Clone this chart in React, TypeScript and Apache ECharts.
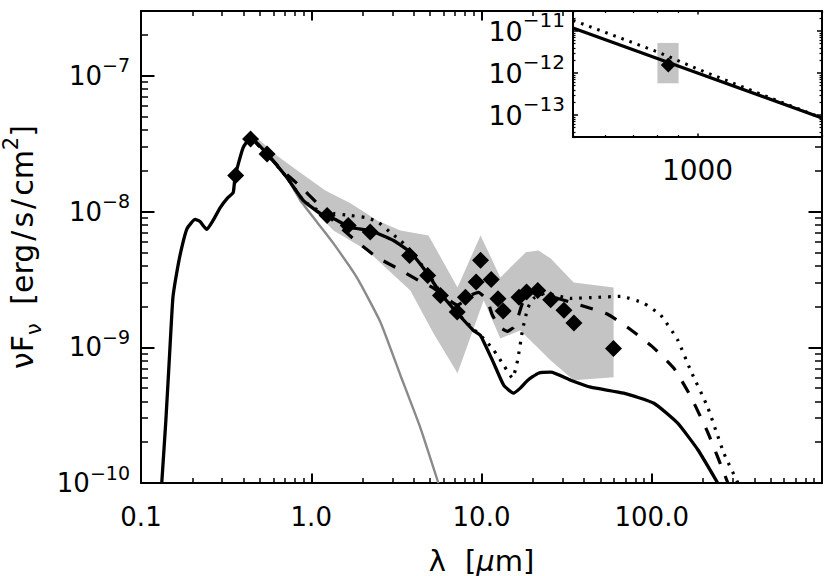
import React, { useEffect, useRef } from 'react';
import * as echarts from 'echarts';

const FONT = 'DejaVu Sans';
const INK = '#000000';
const BAND = '#c4c4c4';
const PHOTO = '#8a8a8a';

// ---------- main panel: observed photometry (wavelength in micron, nuFnu in erg/s/cm2)
const obsWavelength = [0.36, 0.44, 0.55, 1.24, 1.65, 2.22, 3.78, 4.83, 5.74, 7.2, 8.05, 9.3, 9.87, 11.4, 12.5, 13.4, 16.6, 18.4, 21.4, 25.5, 30.5, 34.9, 59.6];
const obsFlux = [1.84e-8, 3.42e-8, 2.65e-8, 9.35e-9, 7.9e-9, 7.05e-9, 4.74e-9, 3.38e-9, 2.41e-9, 1.82e-9, 2.34e-9, 3.02e-9, 4.37e-9, 3.15e-9, 2.28e-9, 1.85e-9, 2.34e-9, 2.55e-9, 2.62e-9, 2.24e-9, 1.87e-9, 1.51e-9, 9.8e-10];

// grey uncertainty band
const bandUpperWavelength = [0.45, 0.63, 0.86, 1.21, 1.7, 2.44, 3.34, 4.88, 7.23, 9.87, 12.9, 18.2, 21.6, 25.5, 34.8, 59.7];
const bandUpperFlux = [3.75e-8, 2.58e-8, 1.94e-8, 1.43e-8, 1.15e-8, 8.6e-9, 7.25e-9, 6.67e-9, 2.76e-9, 6.67e-9, 3.27e-9, 5.0e-9, 5.16e-9, 4.51e-9, 3.0e-9, 2.76e-9];
const bandLowerWavelength = [0.45, 0.63, 0.86, 1.35, 2.13, 3.82, 5.22, 7.23, 10.3, 12.9, 16.9, 25.5, 34.8, 59.7];
const bandLowerFlux = [3.33e-8, 2.18e-8, 1.3e-8, 7.25e-9, 5.16e-9, 2.62e-9, 1.27e-9, 6.44e-10, 2.22e-9, 1.16e-9, 1.33e-9, 8.0e-10, 5.71e-10, 6.0e-10];

// solid model
const solidWavelength = [0.1324, 0.14, 0.148, 0.154, 0.163, 0.1735, 0.1865, 0.208, 0.222, 0.2434, 0.265, 0.292, 0.321, 0.348, 0.357, 0.398, 0.441, 0.548, 0.719, 0.897, 1.13, 1.35, 1.7, 2.22, 3.04, 3.82, 4.81, 5.74, 7.23, 8.97, 9.87, 11.8, 13.5, 15.4, 16.9, 18.7, 21.6, 25.5, 33.4, 43.8, 68.4, 103, 142, 187, 244];
const solidFlux = [1e-10, 2.9e-10, 1e-9, 2.33e-9, 3.68e-9, 5.43e-9, 7.5e-9, 8.74e-9, 8.44e-9, 7.38e-9, 8.59e-9, 1.07e-8, 1.25e-8, 1.38e-8, 1.81e-8, 2.96e-8, 3.5e-8, 2.67e-8, 1.78e-8, 1.21e-8, 9.67e-9, 8.89e-9, 7.63e-9, 7.25e-9, 6.12e-9, 5.0e-9, 3.5e-9, 2.5e-9, 1.78e-9, 1.33e-9, 1.22e-9, 7.63e-10, 5.26e-10, 4.59e-10, 5.0e-10, 5.72e-10, 6.44e-10, 6.55e-10, 5.72e-10, 5.08e-10, 4.59e-10, 3.87e-10, 2.76e-10, 1.75e-10, 1e-10];

// dashed model
const dashWavelength = [0.441, 0.548, 0.658, 0.862, 1.085, 1.38, 1.815, 2.44, 3.21, 4.26, 5.15, 5.74, 7.23, 8.61, 9.59, 10.8, 11.6, 12.9, 14.2, 15.4, 16.3, 17.4, 19.4, 24.4, 38.2, 55.1, 73.3, 100, 135, 169, 213, 280];
const dashFlux = [3.5e-8, 2.67e-8, 2.07e-8, 1.53e-8, 1.15e-8, 8.3e-9, 6.12e-9, 4.59e-9, 3.81e-9, 3.11e-9, 2.76e-9, 2.5e-9, 2.04e-9, 2.41e-9, 2.54e-9, 2.22e-9, 1.72e-9, 1.4e-9, 1.31e-9, 1.4e-9, 1.63e-9, 2.11e-9, 2.54e-9, 2.41e-9, 2.04e-9, 1.75e-9, 1.38e-9, 1.02e-9, 7.0e-10, 4.36e-10, 2.37e-10, 1e-10];

// dotted model
const dotWavelength = [0.441, 0.548, 0.719, 0.897, 1.13, 1.35, 1.7, 2.08, 2.44, 2.92, 3.34, 3.82, 4.81, 5.74, 7.23, 8.61, 10.3, 11.8, 13.5, 15.2, 16.3, 17.4, 18.7, 20.2, 23.8, 33.4, 46.8, 65.7, 89.7, 113, 142, 169, 213, 265, 321];
const dotFlux = [3.5e-8, 2.67e-8, 1.78e-8, 1.21e-8, 1.0e-8, 9.67e-9, 9.35e-9, 9.03e-9, 8.44e-9, 7.0e-9, 6.12e-9, 5.16e-9, 3.56e-9, 2.54e-9, 1.78e-9, 1.43e-9, 1.16e-9, 9.5e-10, 7.37e-10, 5.92e-10, 8.03e-10, 1.33e-9, 1.94e-9, 2.29e-9, 2.5e-9, 2.29e-9, 2.33e-9, 2.37e-9, 2.11e-9, 1.72e-9, 1.13e-9, 6.77e-10, 3.62e-10, 1.66e-10, 1e-10];

// grey stellar photosphere
const photoWavelength = [0.441, 0.548, 0.719, 0.862, 1.085, 1.35, 1.866, 2.55, 3.34, 4.38, 5.58];
const photoFlux = [3.5e-8, 2.67e-8, 1.78e-8, 1.21e-8, 8.3e-9, 5.82e-9, 3.22e-9, 1.53e-9, 6.22e-10, 2.54e-10, 1e-10];

// ---------- inset panel
const insetSolidWavelength = [500, 1000, 2000];
const insetSolidFlux = [1.18e-11, 1.0e-12, 8.5e-14];
const insetDotWavelength = [500, 800, 1000, 1400, 2000];
const insetDotFlux = [1.8e-11, 3.2e-12, 1.25e-12, 3.35e-13, 8.5e-14];
const insetObsWavelength = [850];
const insetObsFlux = [1.55e-12];
const insetBoxWavelength = [800, 900];
const insetBoxFlux = [5.7e-13, 5.2e-12];

// ---------- ticks and labels
const xRange = [0.1, 1000];
const yRange = [1e-10, 3e-7];
const xMajorTicks = [0.1, 1, 10, 100, 1000];
const xTickValues = [0.1, 1, 10, 100];
const xTickLabels = ['0.1', '1.0', '10.0', '100.0'];
const yMajorTicks = [1e-10, 1e-9, 1e-8, 1e-7];
const yTickExponents = ['−10', '−9', '−8', '−7'];

const insetXRange = [500, 2000];
const insetYRange = [3e-14, 3e-11];
const insetXMajorTicks = [1000];
const insetXTickLabels = ['1000'];
const insetYMajorTicks = [1e-13, 1e-12, 1e-11];
const insetYTickExponents = ['−13', '−12', '−11'];

const minorTicks = (lo: number, hi: number) => {
  const out: number[] = [];
  for (let e = Math.floor(Math.log10(lo) + 1e-9); e < Math.ceil(Math.log10(hi) - 1e-9); e++) {
    for (let k = 2; k <= 9; k++) {
      const v = k * Math.pow(10, e);
      if (v >= lo * 0.999 && v <= hi * 1.001) out.push(v);
    }
  }
  return out;
};

const pick = (v: number, vals: number[], labels: string[]) => {
  const i = vals.findIndex((t) => Math.abs(Math.log10(t) - Math.log10(v)) < 1e-6);
  return i >= 0 ? labels[i] : '';
};

const pairs = (xs: number[], ys: number[]) => xs.map((x, i) => [x, ys[i]]);

function tickAxis(
  gridIndex: number,
  position: string,
  range: number[],
  ticks: number[],
  len: number,
  width: number,
  showLine: boolean,
  z: number
): any {
  return {
    type: 'log',
    logBase: 10,
    gridIndex,
    position,
    min: range[0],
    max: range[1],
    z,
    silent: true,
    splitLine: { show: false },
    minorTick: { show: false },
    minorSplitLine: { show: false },
    axisPointer: { show: false },
    axisLine: { show: showLine, lineStyle: { color: INK, width: 2 } },
    axisTick: { show: true, inside: true, length: len, customValues: ticks, lineStyle: { color: INK, width } },
    axisLabel: { show: false },
  };
}

function buildOption(): any {
  const xMinor = minorTicks(xRange[0], xRange[1]);
  const yMinor = minorTicks(yRange[0], yRange[1]);
  const ixMinor = minorTicks(insetXRange[0], insetXRange[1]);
  const iyMinor = minorTicks(insetYRange[0], insetYRange[1]);

  const xMain = tickAxis(0, 'bottom', xRange, xMajorTicks, 9.5, 2, true, 0);
  xMain.axisLabel = {
    show: true,
    customValues: xTickValues,
    formatter: (v: number) => pick(v, xTickValues, xTickLabels),
    margin: 21,
    fontFamily: FONT,
    fontSize: 26,
    color: INK,
  };
  xMain.name = '{n|λ }{g|[}{i|μ}{n|m]}';
  xMain.nameLocation = 'middle';
  xMain.nameGap = 63;
  xMain.nameTextStyle = {
    fontFamily: FONT,
    fontSize: 29,
    color: INK,
    rich: {
      n: { fontFamily: FONT, fontSize: 29, color: INK },
      g: { fontFamily: FONT, fontSize: 29, color: INK, padding: [0, 0, 0, 10] },
      i: { fontFamily: FONT, fontSize: 29, color: INK, fontStyle: 'italic' },
    },
  };

  const yMain = tickAxis(0, 'left', yRange, yMajorTicks, 13.5, 2, true, 0);
  yMain.axisLabel = {
    show: true,
    customValues: yMajorTicks,
    formatter: (v: number) => `{b|10}{s|${pick(v, yMajorTicks, yTickExponents)}}`,
    margin: 11,
    rich: {
      b: { fontFamily: FONT, fontSize: 26, lineHeight: 40, color: INK },
      s: { fontFamily: FONT, fontSize: 19, lineHeight: 15, verticalAlign: 'top', color: INK },
    },
  };
  yMain.name = '{a|νF}{sub|ν}{gap| }{a|[erg}{sl|/}{a|s}{sl|/}{a|cm}{sup|2}{a|]}';
  yMain.nameLocation = 'middle';
  yMain.nameGap = 97;
  yMain.nameTextStyle = {
    fontFamily: FONT,
    fontSize: 30,
    color: INK,
    rich: {
      a: { fontFamily: FONT, fontSize: 30, lineHeight: 44, color: INK },
      gap: { fontFamily: FONT, fontSize: 30, lineHeight: 44, color: INK, padding: [0, 9, 0, 0] },
      sl: { fontFamily: FONT, fontSize: 30, lineHeight: 44, color: INK, padding: [0, 3, 0, 3] },
      sub: { fontFamily: FONT, fontSize: 21, lineHeight: 27, verticalAlign: 'bottom', color: INK },
      sup: { fontFamily: FONT, fontSize: 21, lineHeight: 18, verticalAlign: 'top', color: INK },
    },
  };

  const xInset = tickAxis(1, 'bottom', insetXRange, insetXMajorTicks, 3.5, 1.5, true, 25);
  xInset.axisLabel = {
    show: true,
    customValues: insetXMajorTicks,
    formatter: (v: number) => pick(v, insetXMajorTicks, insetXTickLabels),
    margin: 19,
    fontFamily: FONT,
    fontSize: 28,
    color: INK,
  };

  const yInset = tickAxis(1, 'left', insetYRange, insetYMajorTicks, 5, 1.5, true, 25);
  yInset.axisLabel = {
    show: true,
    customValues: insetYMajorTicks,
    formatter: (v: number) => `{b|10}{s|${pick(v, insetYMajorTicks, insetYTickExponents)}}`,
    margin: 8,
    rich: {
      b: { fontFamily: FONT, fontSize: 27, lineHeight: 42, color: INK },
      s: { fontFamily: FONT, fontSize: 20, lineHeight: 15, verticalAlign: 'top', color: INK },
    },
  };

  return {
    animation: false,
    backgroundColor: '#ffffff',
    textStyle: { fontFamily: FONT },
    grid: [
      { left: 141, top: 11, width: 681, height: 472, outerBoundsMode: 'none', containLabel: false },
      {
        left: 573,
        top: 11,
        width: 249,
        height: 126,
        show: true,
        backgroundColor: '#ffffff',
        borderWidth: 0,
        z: 15,
        outerBoundsMode: 'none',
        containLabel: false,
      },
    ],
    xAxis: [
      xMain,
      tickAxis(0, 'bottom', xRange, xMinor, 5, 1.5, false, 0),
      tickAxis(0, 'top', xRange, xMajorTicks, 9.5, 2, true, 0),
      tickAxis(0, 'top', xRange, xMinor, 5, 1.5, false, 0),
      xInset,
      tickAxis(1, 'bottom', insetXRange, ixMinor, 2, 1.2, false, 25),
      tickAxis(1, 'top', insetXRange, insetXMajorTicks, 3.5, 1.5, true, 25),
      tickAxis(1, 'top', insetXRange, ixMinor, 2, 1.2, false, 25),
    ],
    yAxis: [
      yMain,
      tickAxis(0, 'left', yRange, yMinor, 7, 1.5, false, 0),
      tickAxis(0, 'right', yRange, yMajorTicks, 13.5, 2, true, 0),
      tickAxis(0, 'right', yRange, yMinor, 7, 1.5, false, 0),
      yInset,
      tickAxis(1, 'left', insetYRange, iyMinor, 2.5, 1.2, false, 25),
      tickAxis(1, 'right', insetYRange, insetYMajorTicks, 5, 1.5, true, 25),
      tickAxis(1, 'right', insetYRange, iyMinor, 2.5, 1.2, false, 25),
    ],
    series: [
      {
        type: 'custom',
        name: 'band',
        xAxisIndex: 0,
        yAxisIndex: 0,
        silent: true,
        z: 1,
        data: [[1, 1e-8]],
        renderItem: (_p: any, api: any) => {
          const pts: number[][] = [];
          bandUpperWavelength.forEach((w, i) => pts.push(api.coord([w, bandUpperFlux[i]])));
          for (let i = bandLowerWavelength.length - 1; i >= 0; i--) {
            pts.push(api.coord([bandLowerWavelength[i], bandLowerFlux[i]]));
          }
          return { type: 'polygon', shape: { points: pts }, style: { fill: BAND, stroke: null } };
        },
      },
      {
        type: 'line',
        name: 'photosphere',
        xAxisIndex: 0,
        yAxisIndex: 0,
        z: 2,
        symbol: 'none',
        smooth: 0.15,
        data: pairs(photoWavelength, photoFlux),
        lineStyle: { color: PHOTO, width: 2.4 },
      },
      {
        type: 'line',
        name: 'dotted',
        xAxisIndex: 0,
        yAxisIndex: 0,
        z: 3,
        symbol: 'none',
        smooth: 0.15,
        data: pairs(dotWavelength, dotFlux),
        lineStyle: { color: INK, width: 3.2, type: [2.6, 7], cap: 'butt' },
      },
      {
        type: 'line',
        name: 'dashed',
        xAxisIndex: 0,
        yAxisIndex: 0,
        z: 3,
        symbol: 'none',
        smooth: 0.15,
        data: pairs(dashWavelength, dashFlux),
        lineStyle: { color: INK, width: 3.2, type: [13, 13], cap: 'butt' },
      },
      {
        type: 'line',
        name: 'solid',
        xAxisIndex: 0,
        yAxisIndex: 0,
        z: 4,
        symbol: 'none',
        smooth: 0.15,
        data: pairs(solidWavelength, solidFlux),
        lineStyle: { color: INK, width: 3.3, join: 'round' },
      },
      {
        type: 'scatter',
        name: 'observed',
        xAxisIndex: 0,
        yAxisIndex: 0,
        z: 5,
        symbol: 'diamond',
        symbolSize: 17,
        data: pairs(obsWavelength, obsFlux),
        itemStyle: { color: INK, opacity: 1 },
      },
      {
        type: 'custom',
        name: 'inset band',
        xAxisIndex: 4,
        yAxisIndex: 4,
        silent: true,
        z: 20,
        data: [[850, 1e-12]],
        renderItem: (_p: any, api: any) => {
          const a = api.coord([insetBoxWavelength[0], insetBoxFlux[1]]);
          const b = api.coord([insetBoxWavelength[1], insetBoxFlux[0]]);
          return {
            type: 'rect',
            shape: { x: a[0], y: a[1], width: b[0] - a[0], height: b[1] - a[1] },
            style: { fill: BAND },
          };
        },
      },
      {
        type: 'line',
        name: 'inset dotted',
        xAxisIndex: 4,
        yAxisIndex: 4,
        z: 21,
        symbol: 'none',
        data: pairs(insetDotWavelength, insetDotFlux),
        lineStyle: { color: INK, width: 3, type: [2.6, 6], cap: 'butt' },
      },
      {
        type: 'line',
        name: 'inset solid',
        xAxisIndex: 4,
        yAxisIndex: 4,
        z: 22,
        symbol: 'none',
        data: pairs(insetSolidWavelength, insetSolidFlux),
        lineStyle: { color: INK, width: 3.3 },
      },
      {
        type: 'scatter',
        name: 'inset observed',
        xAxisIndex: 4,
        yAxisIndex: 4,
        z: 23,
        symbol: 'diamond',
        symbolSize: 15,
        data: pairs(insetObsWavelength, insetObsFlux),
        itemStyle: { color: INK, opacity: 1 },
      },
    ],
  };
}

export default function App() {
  const ref = useRef<HTMLDivElement>(null);
  useEffect(() => {
    if (!ref.current) return;
    const chart = echarts.init(ref.current, null, { renderer: 'svg' });
    chart.setOption(buildOption());
    return () => chart.dispose();
  }, []);
  return (
    <div
      ref={ref}
      style={{ position: 'absolute', left: 0, top: 0, width: 830, height: 576, background: '#ffffff' }}
    />
  );
}
